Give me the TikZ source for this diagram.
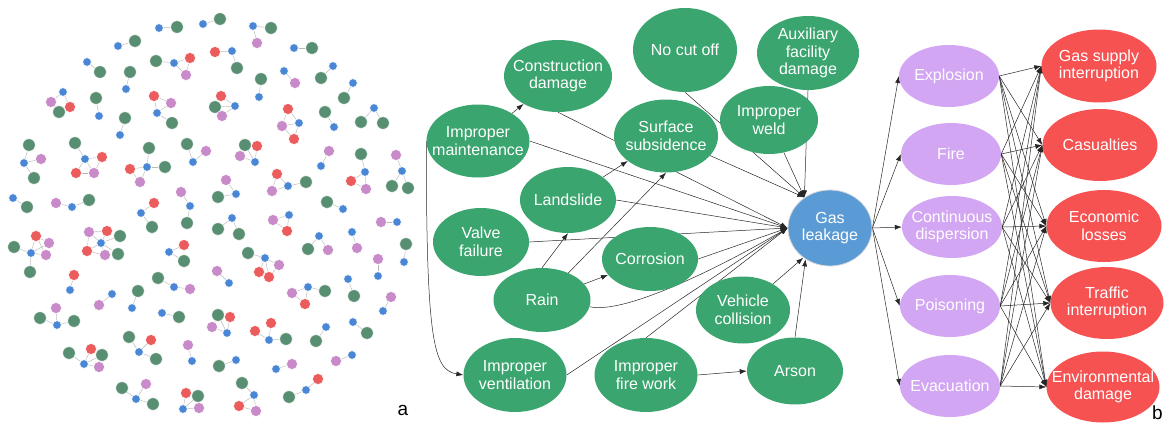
\documentclass[tikz,border=0pt]{standalone}
\usepackage{fontspec}
\setmainfont{Liberation Sans}
\usetikzlibrary{shapes.geometric,arrows.meta}
\pgfdeclarelayer{bg}
\pgfsetlayers{bg,main}
\definecolor{cgreen}{RGB}{58,165,110}
\definecolor{cblue}{RGB}{91,155,213}
\definecolor{cpurple}{RGB}{210,166,242}
\definecolor{cred}{RGB}{246,82,82}
\definecolor{dgreen}{RGB}{88,142,114}
\definecolor{dblue}{RGB}{74,134,214}
\definecolor{dpink}{RGB}{200,138,200}
\definecolor{dred}{RGB}{236,92,92}
% an ellipse of fixed size with its caption set on top of it
\newcommand\evnode[6]{%
  \node[#1, minimum width=#4pt, minimum height=#5pt] (#2) at (#3) {};
  \node[lbl] (#2-t) at (#2) {#6};}
\begin{document}
\begin{tikzpicture}[x=1pt,y=-1pt,
  lbl/.style={inner sep=0pt, text=white, align=center,
    font=\fontsize{16}{17.5}\selectfont},
  ev/.style={ellipse, inner sep=0pt},
  cause/.style={ev, fill=cgreen},
  effect/.style={ev, fill=cpurple},
  loss/.style={ev, fill=cred},
  leak/.style={ev, fill=cblue, draw=black!15, line width=0.8pt},
  link/.style={draw=black!85, line width=0.5pt, -{Latex[length=7pt,width=5pt]}},
  dot/.style={circle, inner sep=0pt, draw=white, line width=0.5pt},
  bd/.style={dot, fill=dblue, minimum size=8.6pt},
  gd/.style={dot, fill=dgreen, minimum size=12.6pt},
  pd/.style={dot, fill=dpink, minimum size=11pt},
  rd/.style={dot, fill=dred, minimum size=11pt},
  tie/.style={draw=black!28, line width=0.45pt}
]
\useasboundingbox (0,0) rectangle (1164,423);

% ---------- left panel: scattered small clusters ----------
% hubs (blue)
\foreach \n/\x/\y in {k1/159/28,k2/203/24,k3/118/46,k4/87/62,k5/174/63,k6/126/89,
  k7/63/92,k8/99/116,k9/157/113,k10/120/135,k11/193/162,k12/24/163,k13/85/159,
  k14/147/167,k15/13/198,k16/72/207,k17/141/213,k18/190/206,k19/232/51,k20/253/26,
  k21/294/48,k22/284/71,k23/259/97,k24/333/66,k25/353/83,k26/235/106,k27/299/123,
  k28/334/127,k29/374/108,k30/255/162,k31/321/166,k32/365/172,k33/402/171,
  k34/288/186,k35/236/194,k36/343/209,k37/31/253,k38/101/243,k39/169/252,
  k40/70/290,k41/174/287,k42/132/308,k43/112/294,k44/57/325,k45/162/313,
  k46/139/352,k47/192/361,k48/84/364,k49/136/399,k50/183/409,k51/232/218,
  k52/289/215,k53/319/236,k54/352/232,k55/397/222,k56/404/262,k57/378/276,
  k58/265/258,k59/229/283,k60/348/279,k61/308/287,k62/383/311,k63/227/333,
  k64/269/340,k65/326/327,k66/353/322,k67/236/360,k68/276/369,k69/352/355,
  k70/254/395,k71/306/390}
  \node[bd] (\n) at (\x,\y) {};
% members, each tied to the node named last
\foreach \n/\s/\x/\y/\h in {
  k1a/gd/177/27/k1, k2a/gd/220/19/k2, k3a/gd/135/41/k3, k4a/gd/100/72/k4,
  k5a/gd/156/61/k5, k5b/rd/190/58/k5, k5c/pd/186/75/k5, k6a/gd/130/72/k6,
  k7a/pd/51/102/k7, k7b/rd/70/107/k7, k7c/gd/59/112/k7a, k8a/gd/96/98/k8,
  k9a/rd/154/96/k9, k9b/pd/171/103/k9, k9c/gd/172/123/k9, k10a/gd/125/118/k10,
  k11a/gd/187/144/k11, k11b/pd/206/151/k11,
  k12a/gd/29/145/k12, k12b/pd/41/159/k12, k12c/gd/34/178/k12,
  k13a/gd/75/143/k13, k13b/rd/102/157/k13, k13c/rd/76/173/k13, k13d/pd/94/173/k13,
  k14a/gd/149/148/k14, k14b/gd/165/167/k14, k14c/rd/130/169/k14, k14d/pd/140/182/k14,
  k15a/gd/27/207/k15, k16a/pd/56/203/k16, k16b/gd/89/200/k16,
  k17a/rd/154/203/k17, k17b/gd/152/227/k17, k18a/pd/181/192/k18, k18b/gd/187/223/k18,
  k19a/rd/215/52/k19, k19b/gd/237/68/k19, k20a/gd/271/28/k20, k20b/pd/257/43/k20,
  k21a/gd/312/48/k21, k22a/pd/295/83/k22, k23a/gd/261/79/k23, k24a/gd/321/78/k24,
  k25a/gd/344/98/k25,
  k26a/rd/221/96/k26, k26b/gd/215/107/k26, k26c/pd/222/116/k26,
  k27a/rd/288/109/k27, k27b/pd/282/126/k27, k27c/rd/294/139/k27,
  k28a/gd/325/112/k28, k29a/gd/361/122/k29, k29b/gd/383/123/k29,
  k30a/gd/245/145/k30, k30b/rd/257/146/k30, k30c/pd/240/156/k30,
  k31a/pd/329/151/k31,
  k32a/gd/361/154/k32, k32b/rd/351/181/k32, k32c/pd/366/189/k32,
  k33a/pd/396/155/k33, k33b/gd/392/186/k33, k33c/gd/408/188/k33,
  k34a/rd/277/174/k34, k34b/pd/272/191/k34, k34c/gd/306/182/k34,
  k35a/pd/226/180/k35, k35b/gd/218/197/k35, k36a/gd/327/202/k36,
  k37a/rd/36/236/k37, k37b/pd/49/243/k37, k37c/gd/14/247/k37, k37d/pd/46/255/k37,
  k37e/gd/30/272/k37,
  k38a/pd/89/232/k38, k38b/rd/107/231/k38, k38c/gd/120/236/k38, k38d/rd/87/251/k38,
  k38e/pd/105/255/k38, k38f/gd/118/254/k38,
  k39a/rd/184/245/k39, k39b/gd/184/261/k39, k40a/rd/74/275/k40,
  k41a/gd/158/278/k41, k41b/pd/190/289/k41, k42a/gd/138/291/k42, k43a/pd/99/305/k43,
  k44a/pd/56/308/k44, k44b/gd/40/318/k44, k44c/gd/74/321/k44, k45a/gd/179/317/k45,
  k46a/gd/129/337/k46, k46b/rd/151/340/k46, k46c/gd/156/359/k46, k47a/pd/188/345/k47,
  k48a/gd/69/353/k48, k48b/rd/91/349/k48, k48c/gd/102/355/k48, k48d/pd/99/367/k48,
  k49a/gd/122/388/k49, k49b/pd/146/384/k49, k49c/gd/153/404/k49,
  k50a/rd/186/393/k50, k50b/gd/198/396/k50, k50c/pd/199/408/k50,
  k51a/gd/218/229/k51, k51b/gd/239/234/k51, k52a/pd/273/220/k52, k52b/rd/287/231/k52,
  k53a/gd/308/249/k53, k53b/pd/328/250/k53, k54a/pd/357/248/k54, k55a/pd/381/222/k55,
  k56a/gd/406/244/k56, k57a/pd/378/259/k57,
  k58a/gd/248/253/k58, k58b/pd/279/265/k58, k58c/rd/259/272/k58, k58d/rd/269/277/k58,
  k59a/pd/217/271/k59, k60a/gd/354/296/k60,
  k61a/pd/292/293/k61, k61b/gd/325/291/k61, k61c/rd/305/304/k61, k62a/pd/391/297/k62,
  k63a/gd/218/315/k63, k63b/rd/230/317/k63, k63c/pd/212/327/k63,
  k64a/rd/271/323/k64, k64b/rd/255/331/k64, k64c/gd/286/339/k64,
  k65a/gd/316/341/k65, k66a/gd/367/333/k66, k67a/gd/219/366/k67, k68a/pd/292/364/k68,
  k69a/pd/336/361/k69,
  k70a/gd/242/383/k70, k70b/rd/239/406/k70, k70c/pd/256/411/k70,
  k71a/rd/318/379/k71, k71b/gd/289/397/k71}
{
  \node[\s] (\n) at (\x,\y) {};
  \begin{pgfonlayer}{bg}\draw[tie] (\n) -- (\h);\end{pgfonlayer}
}
% extra ties closing small loops
\begin{pgfonlayer}{bg}
\foreach \u/\v in {k5b/k5c, k7b/k7c, k9a/k9b, k13b/k13d, k13c/k13d, k14c/k14d,
  k26a/k26b, k26b/k26c, k27a/k27b, k27b/k27c, k30a/k30b, k30a/k30c, k32b/k32c,
  k34a/k34b, k37a/k37b, k37a/k37d, k38a/k38b, k38a/k38d, k38d/k38e, k48b/k48c,
  k48c/k48d, k50a/k50b, k50b/k50c, k52a/k52b, k58c/k58d, k58b/k58d, k61a/k61c,
  k63a/k63b, k63a/k63c, k70b/k70c}
  \draw[tie] (\u) -- (\v);
\end{pgfonlayer}
\node[inner sep=0pt, font=\fontsize{19}{19}\selectfont] (la) at (403,410) {a};

% ---------- right panel: causes, gas leakage, consequences, losses ----------
\evnode{cause}{cd}{558,76}{108}{72}{Construction\\damage}
\evnode{cause}{nco}{685,50}{104}{84}{No cut off}
\evnode{cause}{aux}{808,53}{102}{74}{Auxiliary\\facility\\damage}
\evnode{cause}{iw}{769,120}{98}{68}{Improper\\weld}
\evnode{cause}{ss}{666,136}{104}{73}{Surface\\subsidence}
\evnode{cause}{im}{478,141}{103}{73}{Improper\\maintenance}
\evnode{cause}{ls}{568,200}{96}{66}{Landslide}
\evnode{cause}{vf}{481,242}{96}{68}{Valve\\failure}
\evnode{cause}{cor}{650,259}{96}{64}{Corrosion}
\evnode{cause}{rain}{542,300}{97}{64}{Rain}
\evnode{cause}{vc}{743,310}{94}{67}{Vehicle\\collision}
\evnode{cause}{iv}{515,375}{103}{74}{Improper\\ventilation}
\evnode{cause}{ifw}{646,375}{103}{74}{Improper\\fire work}
\evnode{cause}{ars}{795,371}{96}{67}{Arson}
\evnode{leak}{gl}{830,228}{84}{76}{Gas\\leakage}

\evnode{effect}{exp}{949,76}{100}{62}{Explosion}
\evnode{effect}{fire}{951,154}{100}{62}{Fire}
\evnode{effect}{cdis}{952,227}{100}{62}{Continuous\\dispersion}
\evnode{effect}{pois}{950,306}{100}{62}{Poisoning}
\evnode{effect}{evac}{950,386}{100}{62}{Evacuation}

\evnode{loss}{gsi}{1099,66}{115}{73}{Gas supply\\interruption}
\evnode{loss}{cas}{1100,145}{115}{72}{Casualties}
\evnode{loss}{eco}{1104,226}{115}{72}{Economic\\losses}
\evnode{loss}{traf}{1107,303}{113}{72}{Traffic\\interruption}
\evnode{loss}{env}{1103,387}{113}{71}{Environmental\\damage}

\node[inner sep=0pt, anchor=west, font=\fontsize{19}{19}\selectfont] (lb) at (1152,413) {b};

\begin{pgfonlayer}{bg}
\draw[link] (im) -- (cd);
\draw[link] (im.west) .. controls +(0,200) and +(-30,-5) .. (iv.west);
\draw[link] (im.east) -- (gl.180);
\draw[link] (cd.south) -- (gl.180);
\draw[link] (nco.south) -- (gl.130);
\draw[link] (aux.south) -- (gl.130);
\draw[link] (iw) -- (gl.130);
\draw[link] (ss) -- (gl.130);
\draw[link] (ls) -- (ss);
\draw[link] (ls.east) -- (gl.180);
\draw[link] (vf.east) -- (gl.180);
\draw[link] (cor.east) -- (gl.180);
\draw[link] (rain.north) -- (ls.south);
\draw[link] (rain) -- (ss.south);
\draw[link] (rain) -- (cor);
\draw[link] (rain.-8) .. controls +(35,8) and +(-69,40) .. (gl.180);
\draw[link] (iv.east) -- (gl.180);
\draw[link] (ifw.north) -- (gl.180);
\draw[link] (ifw.east) -- (ars.west);
\draw[link] (vc) -- (gl.228);
\draw[link] (ars.north) -- (gl.232);
\foreach \t in {exp,fire,cdis,pois,evac}
  \draw[link] (gl.east) -- (\t.west);
\foreach \s in {exp,fire,cdis,pois,evac}
  \foreach \t in {gsi,cas,eco,traf,env}
    \draw[link] (\s.east) -- (\t.west);
\end{pgfonlayer}
\end{tikzpicture}
\end{document}
